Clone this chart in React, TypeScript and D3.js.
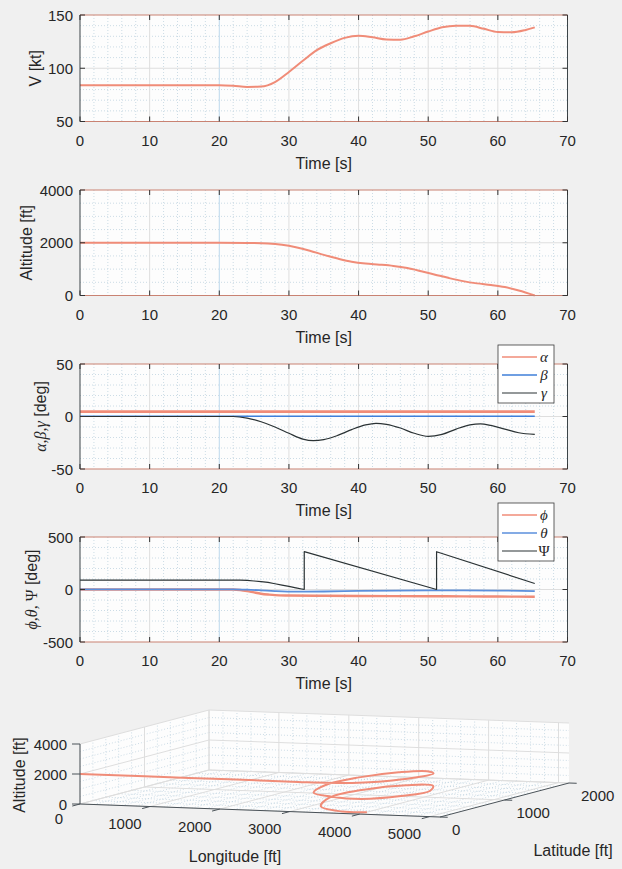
import React, { useEffect, useRef } from 'react';
import * as d3 from 'd3';

const W = 622;
const H = 869;
const SANS = "'Liberation Sans', Arial, Helvetica, sans-serif";
const SERIF = "'Liberation Serif', 'Times New Roman', serif";
const TEXT = '#262626';
const MAJOR = '#dedede';
const MINOR = '#bfd3df';
const SALMON = '#f08c78';

// ---- data ----
const timeTicks = [0, 10, 20, 30, 40, 50, 60, 70];

const speedTime = [0, 5, 10, 15, 20, 22, 24, 26, 28, 30, 32, 34, 36, 38, 40, 42, 44, 46, 48, 50, 52, 54, 56, 58, 60, 62, 64, 65.3];
const speedKt = [84, 84, 84, 84, 84, 83.5, 82.5, 82.8, 87, 96.5, 107, 117, 123.5, 128.5, 130.5, 129, 127, 126.8, 130, 134.5, 138.5, 140, 139.8, 137, 134, 133.8, 136, 138.4];

const altTime = [0, 10, 20, 24, 27, 29, 31, 33, 35, 37, 39, 41, 43, 45, 47, 49, 51, 53, 55, 57, 59, 61, 63, 65.3];
const altFt = [2000, 2000, 2000, 1995, 1970, 1920, 1830, 1700, 1540, 1400, 1280, 1210, 1170, 1120, 1040, 920, 790, 660, 545, 460, 400, 320, 190, 0];

const alphaTime = [0, 65.3];
const alphaDeg = [4.6, 4.6];
const betaTime = [0, 65.3];
const betaDeg = [0.2, 0.2];
const gammaTime = [0, 20, 22, 24, 26, 28, 30, 32, 33.5, 35, 37, 39, 41, 42.5, 44, 46, 48, 50, 52, 54, 56, 57.5, 59, 61, 63, 65.3];
const gammaDeg = [0, 0, 0, -1.5, -5, -10, -16, -21.5, -23, -22, -18, -12.5, -8, -6.5, -7.5, -11, -16, -19, -17, -12, -8, -7, -8.5, -12, -15.5, -17];

const phiTime = [0, 20, 22, 23, 24, 25, 26, 27, 28, 30, 35, 40, 45, 50, 55, 60, 65.3];
const phiDeg = [0, 0, 0, -5, -15, -28, -40, -48, -54, -57, -60, -62, -63, -64, -65, -67, -69];
const thetaTime = [0, 20, 22, 24, 26, 28, 31, 35, 40, 45, 50, 55, 60, 65.3];
const thetaDeg = [1, 1, 1, -2, -8, -15, -21, -19, -14, -10, -9, -9, -10, -15];
const psiTime = [0, 20, 22, 23, 24, 25, 26, 27, 28, 29, 30, 31, 32.2, 32.2, 51.2, 51.2, 65.3];
const psiDeg = [90, 90, 90, 89, 86, 81, 75, 67, 55, 42, 29, 16, 0, 360, 0, 360, 57];

// 3D trajectory samples (t = 0, 11, 22, 24 ... 64, 65.3 s)
const pathLon = [0, 1560, 3120, 3400, 3677, 3941, 4152, 4241, 4151, 3854, 3456, 3131, 3036, 3216, 3588, 3996, 4271, 4292, 4011, 3563, 3193, 3099, 3320, 3732, 4003];
const pathLat = [0, 0, 0, 2, 31, 132, 343, 653, 983, 1205, 1197, 932, 517, 136, 10, 29, 347, 778, 1128, 1194, 938, 508, 136, 16, 110];
const pathAlt = [2000, 2000, 2000, 1995, 1985, 1950, 1880, 1770, 1620, 1470, 1340, 1245, 1190, 1145, 1080, 980, 855, 725, 600, 500, 430, 365, 255, 110, 0];

const lonTicks = [0, 1000, 2000, 3000, 4000, 5000];
const latTicks = [0, 1000, 2000];
const zTicks = [0, 2000, 4000];

type Part = { text: string; serif?: boolean; upright?: boolean };
type Series = { time: number[]; values: number[]; color: string; width: number; name?: string; curve: d3.CurveFactory };
type Panel = {
  top: number; bottom: number; domain: [number, number]; ticks: number[]; minor: number;
  labelX: number; ylabel: Part[]; series: Series[];
  legend?: { x: number; y: number; w: number; h: number; rowY: number[] };
};

const panels: Panel[] = [
  {
    top: 15, bottom: 121.5, domain: [50, 150], ticks: [50, 100, 150], minor: 10, labelX: 35,
    ylabel: [{ text: 'V [kt]' }],
    series: [{ time: speedTime, values: speedKt, color: SALMON, width: 2, curve: d3.curveMonotoneX }],
  },
  {
    top: 190, bottom: 295.5, domain: [0, 4000], ticks: [0, 2000, 4000], minor: 500, labelX: 26,
    ylabel: [{ text: 'Altitude [ft]' }],
    series: [{ time: altTime, values: altFt, color: SALMON, width: 2, curve: d3.curveMonotoneX }],
  },
  {
    top: 364, bottom: 469, domain: [-50, 50], ticks: [-50, 0, 50], minor: 10, labelX: 40,
    ylabel: [{ text: 'α,β,γ', serif: true }, { text: ' [deg]' }],
    series: [
      { time: alphaTime, values: alphaDeg, color: SALMON, width: 2.6, name: 'α', curve: d3.curveLinear },
      { time: betaTime, values: betaDeg, color: '#3f7fd9', width: 1.6, name: 'β', curve: d3.curveLinear },
      { time: gammaTime, values: gammaDeg, color: '#2b3335', width: 1.2, name: 'γ', curve: d3.curveMonotoneX },
    ],
    legend: { x: 498, y: 345, w: 56, h: 58, rowY: [357, 375, 393] },
  },
  {
    top: 537, bottom: 642, domain: [-500, 500], ticks: [-500, 0, 500], minor: 100, labelX: 31,
    ylabel: [{ text: 'ϕ,θ, ', serif: true }, { text: 'Ψ', serif: true, upright: true }, { text: ' [deg]' }],
    series: [
      { time: phiTime, values: phiDeg, color: SALMON, width: 2.4, name: 'ϕ', curve: d3.curveMonotoneX },
      { time: thetaTime, values: thetaDeg, color: '#5b8fdc', width: 1.8, name: 'θ', curve: d3.curveMonotoneX },
      { time: psiTime, values: psiDeg, color: '#2b3335', width: 1.2, name: 'Ψ', curve: d3.curveLinear },
    ],
    legend: { x: 498, y: 503, w: 56, h: 58, rowY: [515, 533, 551] },
  },
];

type Sel = d3.Selection<SVGSVGElement, unknown, null, undefined>;

function drawPanel(svg: Sel, x: d3.ScaleLinear<number, number>, p: Panel) {
  const y = d3.scaleLinear().domain(p.domain).range([p.bottom, p.top]);
  const [x0, x1] = x.range();
  const g = svg.append('g');

  g.append('rect').attr('x', x0).attr('y', p.top).attr('width', x1 - x0).attr('height', p.bottom - p.top).attr('fill', '#fdfdfd');

  // minor grid
  const minorX = d3.range(0, 70.001, 2).filter((v) => v % 10 !== 0);
  const minorY = d3.range(p.domain[0], p.domain[1] + 0.001, p.minor).filter((v) => !p.ticks.includes(v));
  g.selectAll(null).data(minorX).join('line')
    .attr('x1', (d) => x(d)).attr('x2', (d) => x(d)).attr('y1', p.top).attr('y2', p.bottom)
    .attr('stroke', MINOR).attr('stroke-width', 0.8).attr('stroke-dasharray', '1,2');
  g.selectAll(null).data(minorY).join('line')
    .attr('x1', x0).attr('x2', x1).attr('y1', (d) => y(d)).attr('y2', (d) => y(d))
    .attr('stroke', MINOR).attr('stroke-width', 0.8).attr('stroke-dasharray', '1,2');

  // major grid
  g.selectAll(null).data(timeTicks.slice(1, -1)).join('line')
    .attr('x1', (d) => x(d)).attr('x2', (d) => x(d)).attr('y1', p.top).attr('y2', p.bottom)
    .attr('stroke', (d) => (d === 20 ? '#bcd8ec' : MAJOR)).attr('stroke-width', 1);
  g.selectAll(null).data(p.ticks.slice(1, -1)).join('line')
    .attr('x1', x0).attr('x2', x1).attr('y1', (d) => y(d)).attr('y2', (d) => y(d))
    .attr('stroke', MAJOR).attr('stroke-width', 1);

  // data
  p.series.forEach((s) => {
    const line = d3.line<number>().x((i) => x(s.time[i])).y((i) => y(s.values[i])).curve(s.curve);
    g.append('path').attr('d', line(d3.range(s.time.length)))
      .attr('fill', 'none').attr('stroke', s.color).attr('stroke-width', s.width)
      .attr('stroke-linejoin', 'round');
  });

  // box
  g.append('line').attr('x1', x0).attr('x2', x1).attr('y1', p.top).attr('y2', p.top).attr('stroke', '#c98272').attr('stroke-width', 1.1);
  g.append('line').attr('x1', x0).attr('x2', x1).attr('y1', p.bottom).attr('y2', p.bottom).attr('stroke', '#c98272').attr('stroke-width', 1.1);
  g.append('line').attr('x1', x0).attr('x2', x0).attr('y1', p.top).attr('y2', p.bottom).attr('stroke', '#3c4448');
  g.append('line').attr('x1', x1).attr('x2', x1).attr('y1', p.top).attr('y2', p.bottom).attr('stroke', '#3c4448');

  // ticks (inside, both sides)
  g.selectAll(null).data(timeTicks).join('path')
    .attr('d', (d) => `M${x(d)},${p.bottom}v-5M${x(d)},${p.top}v5`)
    .attr('stroke', '#333').attr('stroke-width', 1);
  g.selectAll(null).data(p.ticks).join('path')
    .attr('d', (d) => `M${x0},${y(d)}h5M${x1},${y(d)}h-5`)
    .attr('stroke', '#333').attr('stroke-width', 1);

  // tick labels
  g.selectAll(null).data(timeTicks).join('text')
    .attr('x', (d) => x(d)).attr('y', p.bottom + 18.5)
    .attr('text-anchor', 'middle').attr('dominant-baseline', 'central')
    .attr('font-size', 15).attr('fill', TEXT).text((d) => String(d));
  g.selectAll(null).data(p.ticks).join('text')
    .attr('x', x0 - 7).attr('y', (d) => y(d))
    .attr('text-anchor', 'end').attr('dominant-baseline', 'central')
    .attr('font-size', 15).attr('fill', TEXT).text((d) => String(d));

  g.append('text').attr('x', (x0 + x1) / 2).attr('y', p.bottom + 41.5)
    .attr('text-anchor', 'middle').attr('dominant-baseline', 'central')
    .attr('font-size', 16).attr('fill', TEXT).text('Time [s]');

  const yl = g.append('text')
    .attr('transform', `translate(${p.labelX},${(p.top + p.bottom) / 2}) rotate(-90)`)
    .attr('text-anchor', 'middle').attr('dominant-baseline', 'central')
    .attr('font-size', 16).attr('fill', TEXT);
  p.ylabel.forEach((part) => {
    yl.append('tspan').text(part.text)
      .attr('font-family', part.serif ? SERIF : SANS)
      .attr('font-style', part.serif && !part.upright ? 'italic' : 'normal');
  });

  // legend
  if (p.legend) {
    const L = p.legend;
    g.append('rect').attr('x', L.x).attr('y', L.y).attr('width', L.w).attr('height', L.h)
      .attr('fill', '#ffffff').attr('stroke', '#3a3a3a').attr('stroke-width', 0.8);
    p.series.forEach((s, i) => {
      g.append('line').attr('x1', L.x + 4).attr('x2', L.x + 39).attr('y1', L.rowY[i]).attr('y2', L.rowY[i])
        .attr('stroke', s.color).attr('stroke-width', Math.min(s.width, 1.6));
      g.append('text').attr('x', L.x + 46).attr('y', L.rowY[i])
        .attr('dominant-baseline', 'central').attr('text-anchor', 'middle')
        .attr('font-family', SERIF).attr('font-style', s.name === 'Ψ' ? 'normal' : 'italic')
        .attr('font-size', 15).attr('fill', TEXT).text(s.name || '');
    });
  }
}

function draw3D(svg: Sel) {
  const lonMax = 5150;
  const latMax = 2000;
  const altMax = 4000;
  const lonS = d3.scaleLinear().domain([0, lonMax]).range([0, 1]);
  const latS = d3.scaleLinear().domain([0, latMax]).range([0, 1]);
  const altS = d3.scaleLinear().domain([0, altMax]).range([0, 1]);
  const O = [80, 804];
  const EX = [360, 13];
  const EY = [129, -34];
  const EZ = [0, -60];
  const proj = (lon: number, lat: number, alt: number): [number, number] => {
    const a = lonS(lon), b = latS(lat), c = altS(alt);
    return [O[0] + a * EX[0] + b * EY[0] + c * EZ[0], O[1] + a * EX[1] + b * EY[1] + c * EZ[1]];
  };
  const g = svg.append('g');
  const poly = (pts: [number, number][]) => 'M' + pts.map((q) => q.join(',')).join('L') + 'Z';

  // back panes
  g.append('path').attr('d', poly([proj(0, 0, 0), proj(lonMax, 0, 0), proj(lonMax, latMax, 0), proj(0, latMax, 0)])).attr('fill', '#fdfdfd');
  g.append('path').attr('d', poly([proj(0, 0, 0), proj(0, latMax, 0), proj(0, latMax, altMax), proj(0, 0, altMax)])).attr('fill', '#fdfdfd');
  g.append('path').attr('d', poly([proj(0, latMax, 0), proj(lonMax, latMax, 0), proj(lonMax, latMax, altMax), proj(0, latMax, altMax)])).attr('fill', '#fdfdfd');

  const seg = (a: [number, number], b: [number, number], major: boolean) => {
    g.append('line').attr('x1', a[0]).attr('y1', a[1]).attr('x2', b[0]).attr('y2', b[1])
      .attr('stroke', major ? MAJOR : MINOR).attr('stroke-width', major ? 1 : 0.8)
      .attr('stroke-dasharray', major ? null : '1,2');
  };

  const lonGrid = d3.range(0, lonMax, 200);
  const latGrid = d3.range(0, latMax + 1, 200);
  const altGrid = d3.range(0, altMax + 1, 500);
  // minor first, major on top
  [false, true].forEach((major) => {
    lonGrid.filter((v) => (v % 1000 === 0) === major).forEach((v) => {
      seg(proj(v, 0, 0), proj(v, latMax, 0), major);
      seg(proj(v, latMax, 0), proj(v, latMax, altMax), major);
    });
    latGrid.filter((v) => (v % 1000 === 0) === major).forEach((v) => {
      seg(proj(0, v, 0), proj(lonMax, v, 0), major);
      seg(proj(0, v, 0), proj(0, v, altMax), major);
    });
    altGrid.filter((v) => (v % 2000 === 0) === major).forEach((v) => {
      seg(proj(0, 0, v), proj(0, latMax, v), major);
      seg(proj(0, latMax, v), proj(lonMax, latMax, v), major);
    });
  });

  // trajectory
  const traj = d3.line<number>()
    .x((i) => proj(pathLon[i], pathLat[i], pathAlt[i])[0])
    .y((i) => proj(pathLon[i], pathLat[i], pathAlt[i])[1])
    .curve(d3.curveCatmullRom.alpha(0.5));
  g.append('path').attr('d', traj(d3.range(pathLon.length)))
    .attr('fill', 'none').attr('stroke', SALMON).attr('stroke-width', 2).attr('stroke-linejoin', 'round');

  // axis lines
  const axisColor = '#4a5258';
  const axLine = (a: [number, number], b: [number, number]) =>
    g.append('line').attr('x1', a[0]).attr('y1', a[1]).attr('x2', b[0]).attr('y2', b[1]).attr('stroke', axisColor).attr('stroke-width', 1);
  axLine(proj(0, 0, 0), proj(0, 0, altMax));
  axLine(proj(0, 0, 0), proj(lonMax, 0, 0));
  axLine(proj(lonMax, 0, 0), proj(lonMax, latMax, 0));

  // ticks
  zTicks.forEach((v) => {
    const p = proj(0, 0, v);
    axLine([p[0] - 8, p[1]], p);
    g.append('text').attr('x', p[0] - 13).attr('y', p[1]).attr('text-anchor', 'end')
      .attr('dominant-baseline', 'central').attr('font-size', 15).attr('fill', TEXT).text(String(v));
  });
  lonTicks.forEach((v) => {
    const p = proj(v, 0, 0);
    const q = proj(v, -120, 0);
    axLine(p, q);
    g.append('text').attr('x', p[0] - (v === 0 ? 21 : 25)).attr('y', p[1] + (v === 0 ? 14 : 17)).attr('text-anchor', 'middle')
      .attr('dominant-baseline', 'central').attr('font-size', 15).attr('fill', TEXT).text(String(v));
  });
  latTicks.forEach((v) => {
    const p = proj(lonMax, v, 0);
    const q = proj(lonMax + 110, v, 0);
    axLine(p, q);
    g.append('text').attr('x', p[0] + 12).attr('y', p[1] + 12).attr('text-anchor', 'start')
      .attr('dominant-baseline', 'central').attr('font-size', 15).attr('fill', TEXT).text(String(v));
  });

  const zMid = proj(0, 0, altMax / 2);
  g.append('text').attr('transform', `translate(19,${zMid[1] + 1}) rotate(-90)`)
    .attr('text-anchor', 'middle').attr('dominant-baseline', 'central')
    .attr('font-size', 16).attr('fill', TEXT).text('Altitude [ft]');
  g.append('text').attr('x', 235).attr('y', 856).attr('text-anchor', 'middle').attr('dominant-baseline', 'central')
    .attr('font-size', 16).attr('fill', TEXT).text('Longitude [ft]');
  g.append('text').attr('x', 573).attr('y', 850).attr('text-anchor', 'middle').attr('dominant-baseline', 'central')
    .attr('font-size', 16).attr('fill', TEXT).text('Latitude [ft]');
}

export default function App() {
  const svgRef = useRef<SVGSVGElement>(null);

  useEffect(() => {
    const svg = d3.select(svgRef.current as SVGSVGElement);
    svg.selectAll('*').remove();
    svg.append('rect').attr('width', W).attr('height', H).attr('fill', '#f0f0f0');
    const x = d3.scaleLinear().domain([0, 70]).range([80, 567.5]);
    panels.forEach((p) => drawPanel(svg, x, p));
    draw3D(svg);
  }, []);

  return (
    <svg
      ref={svgRef}
      width={W}
      height={H}
      fontFamily={SANS}
      style={{ position: 'absolute', left: 0, top: 0, display: 'block' }}
    />
  );
}
